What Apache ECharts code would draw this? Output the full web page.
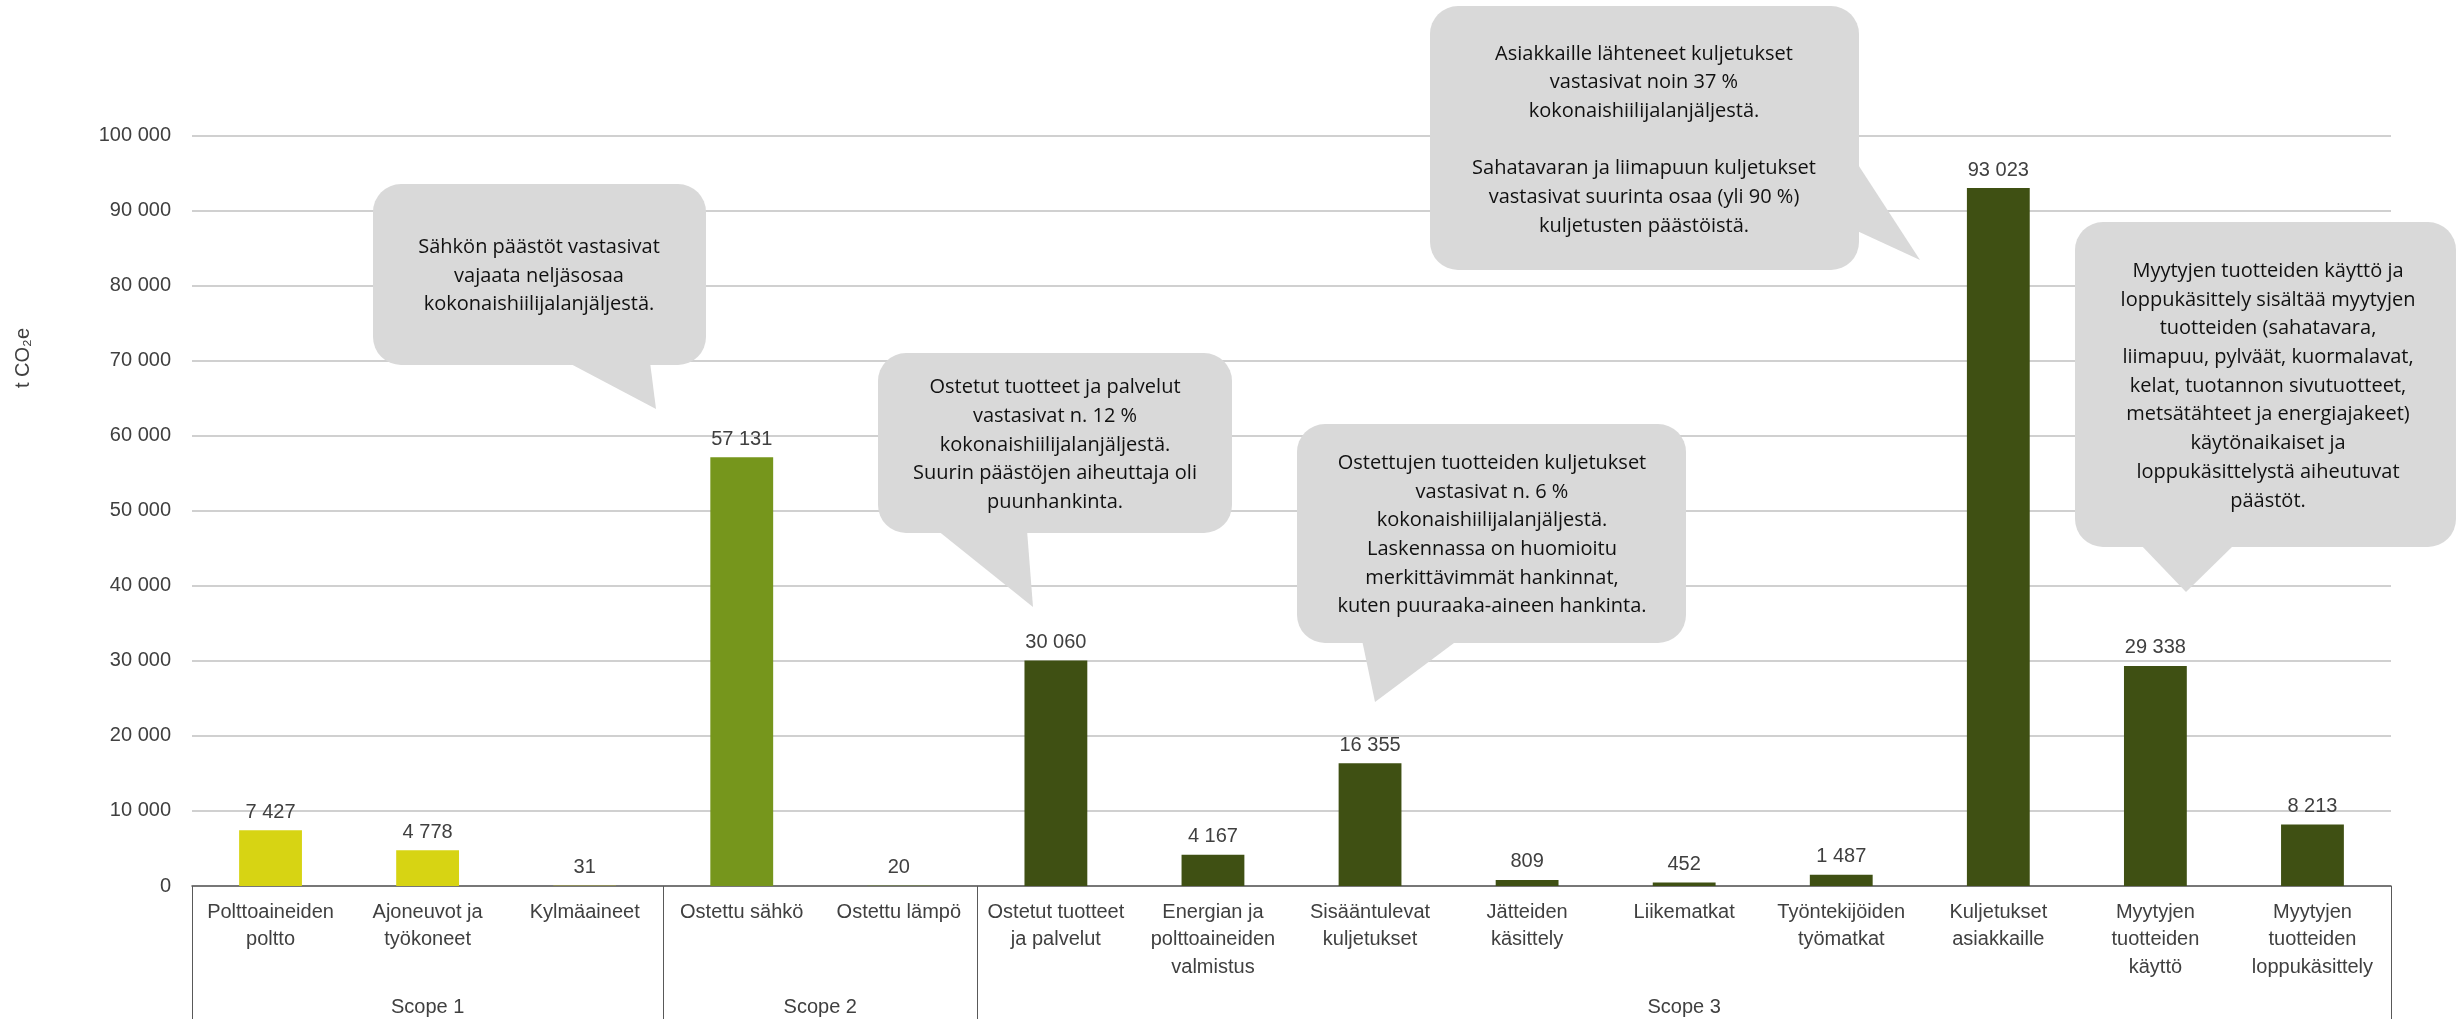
<!DOCTYPE html>
<html>
<head>
<meta charset="utf-8">
<script src="https://cdn.jsdelivr.net/npm/echarts@6/dist/echarts.min.js"></script>
<style>
html,body{margin:0;padding:0;background:#fff;}
#chart{width:2459px;height:1019px;}
</style>
</head>
<body>
<div id="chart"></div>
<script>
// ---- data ----
const categories = [
  'Polttoaineiden\npoltto', 'Ajoneuvot ja\ntyökoneet', 'Kylmäaineet',
  'Ostettu sähkö', 'Ostettu lämpö',
  'Ostetut tuotteet\nja palvelut', 'Energian ja\npolttoaineiden\nvalmistus', 'Sisääntulevat\nkuljetukset',
  'Jätteiden\nkäsittely', 'Liikematkat', 'Työntekijöiden\ntyömatkat', 'Kuljetukset\nasiakkaille',
  'Myytyjen\ntuotteiden\nkäyttö', 'Myytyjen\ntuotteiden\nloppukäsittely'
];
const values = [7427, 4778, 31, 57131, 20, 30060, 4167, 16355, 809, 452, 1487, 93023, 29338, 8213];
const scopes = ['Scope 1', 'Scope 2', 'Scope 3'];
const scopeCounts = [3, 2, 9];
const yTicks = [0, 10000, 20000, 30000, 40000, 50000, 60000, 70000, 80000, 90000, 100000];
const yAxisTitle = 't CO₂e';
const notes = [
  'Sähkön päästöt vastasivat\nvajaata neljäsosaa\nkokonaishiilijalanjäljestä.',
  'Ostetut tuotteet ja palvelut\nvastasivat n. 12 %\nkokonaishiilijalanjäljestä.\nSuurin päästöjen aiheuttaja oli\npuunhankinta.',
  'Ostettujen tuotteiden kuljetukset\nvastasivat n. 6 %\nkokonaishiilijalanjäljestä.\nLaskennassa on huomioitu\nmerkittävimmät hankinnat,\nkuten puuraaka-aineen hankinta.',
  'Asiakkaille lähteneet kuljetukset\nvastasivat noin 37 %\nkokonaishiilijalanjäljestä.\n\nSahatavaran ja liimapuun kuljetukset\nvastasivat suurinta osaa (yli 90 %)\nkuljetusten päästöistä.',
  'Myytyjen tuotteiden käyttö ja\nloppukäsittely sisältää myytyjen\ntuotteiden (sahatavara,\nliimapuu, pylväät, kuormalavat,\nkelat, tuotannon sivutuotteet,\nmetsätähteet ja energiajakeet)\nkäytönaikaiset ja\nloppukäsittelystä aiheutuvat\npäästöt.'
];

// ---- styles / layout ----
const scopeColors = ['#D7D413', '#76961C', '#3F5013'];
const fmt = v => String(v).replace(/\B(?=(\d{3})+(?!\d))/g, ' ');
const axisFont = 'Liberation Sans, Arial, sans-serif';
const noteFont = 'Open Sans, sans-serif';

// scope of each category, boundaries and midpoints
const scopeOf = [];
const bounds = [0];
const mids = [];
scopeCounts.forEach((n, s) => {
  const start = bounds[bounds.length - 1];
  for (let i = 0; i < n; i++) scopeOf.push(s);
  bounds.push(start + n);
  mids.push(start + n / 2);
});

const barData = values.map((v, i) => ({ value: v, itemStyle: { color: scopeColors[scopeOf[i]] } }));

// callout shapes (annotation layout, pixel positions)
const calloutLayout = [
  { rect: [373, 184, 333, 181], tail: [[567, 362], [650, 362], [656, 409]], text: [539, 276] },
  { rect: [878, 353, 354, 180], tail: [[937, 530], [1027, 530], [1033, 607]], text: [1055, 445] },
  { rect: [1297, 424, 389, 219], tail: [[1362, 640], [1458, 640], [1375, 702]], text: [1492, 535] },
  { rect: [1430, 6, 429, 264], tail: [[1855, 160], [1920, 260], [1855, 230]], text: [1644, 140] },
  { rect: [2075, 222, 381, 325], tail: [[2140, 544], [2235, 544], [2186, 592]], text: [2268, 386] }
];
const calloutGraphics = [];
calloutLayout.forEach((c, i) => {
  calloutGraphics.push({
    type: 'rect', z: 100,
    shape: { x: c.rect[0], y: c.rect[1], width: c.rect[2], height: c.rect[3], r: 28 },
    style: { fill: '#D9D9D9' }
  });
  calloutGraphics.push({
    type: 'polygon', z: 100,
    shape: { points: c.tail },
    style: { fill: '#D9D9D9' }
  });
  calloutGraphics.push({
    type: 'text', z: 101,
    x: c.text[0], y: c.text[1],
    style: {
      text: notes[i], fill: '#111', font: '20px ' + noteFont,
      fontSize: 20, fontFamily: noteFont,
      align: 'center', verticalAlign: 'middle', lineHeight: 28.7
    }
  });
});

const chart = echarts.init(document.getElementById('chart'), null, { renderer: 'canvas' });
chart.setOption({
  backgroundColor: '#ffffff',
  animation: false,
  grid: { left: 192, right: 68, top: 135.7, bottom: 133, containLabel: false, outerBoundsMode: 'none' },
  xAxis: [
    {
      type: 'category', data: categories, position: 'bottom',
      axisLine: { show: true, lineStyle: { color: '#595959', width: 1.5 } },
      axisTick: { show: false },
      axisLabel: { interval: 0, color: '#404040', fontFamily: axisFont, fontSize: 20, lineHeight: 27.3, margin: 13 },
      splitLine: { show: false }
    },
    {
      type: 'value', min: 0, max: categories.length, position: 'bottom',
      axisLine: { show: false },
      splitLine: { show: false },
      axisTick: { show: true, customValues: bounds, length: 133, inside: false, lineStyle: { color: '#595959', width: 1 } },
      axisLabel: {
        show: true, customValues: mids, margin: 108, color: '#404040', fontFamily: axisFont, fontSize: 20, lineHeight: 27,
        formatter: v => { const k = mids.indexOf(v); return k >= 0 ? scopes[k] : ''; }
      }
    }
  ],
  yAxis: {
    type: 'value', min: yTicks[0], max: yTicks[yTicks.length - 1], interval: yTicks[1] - yTicks[0],
    axisLine: { show: false }, axisTick: { show: false },
    axisLabel: { color: '#404040', fontFamily: axisFont, fontSize: 20, margin: 21, formatter: v => fmt(v) },
    splitLine: { show: true, lineStyle: { color: '#D0D0D0', width: 2 } }
  },
  series: [{
    type: 'bar', xAxisIndex: 0, yAxisIndex: 0,
    data: barData, barWidth: '40%',
    label: {
      show: true, position: 'top', distance: 7, color: '#404040',
      fontFamily: axisFont, fontSize: 20, lineHeight: 22,
      formatter: p => fmt(p.value)
    }
  }],
  graphic: [
    {
      type: 'text', x: 23, y: 358, rotation: Math.PI / 2,
      style: { text: yAxisTitle, fill: '#404040', fontFamily: axisFont, fontSize: 20, align: 'center', verticalAlign: 'middle' }
    }
  ].concat(calloutGraphics)
});
</script>
</body>
</html>
